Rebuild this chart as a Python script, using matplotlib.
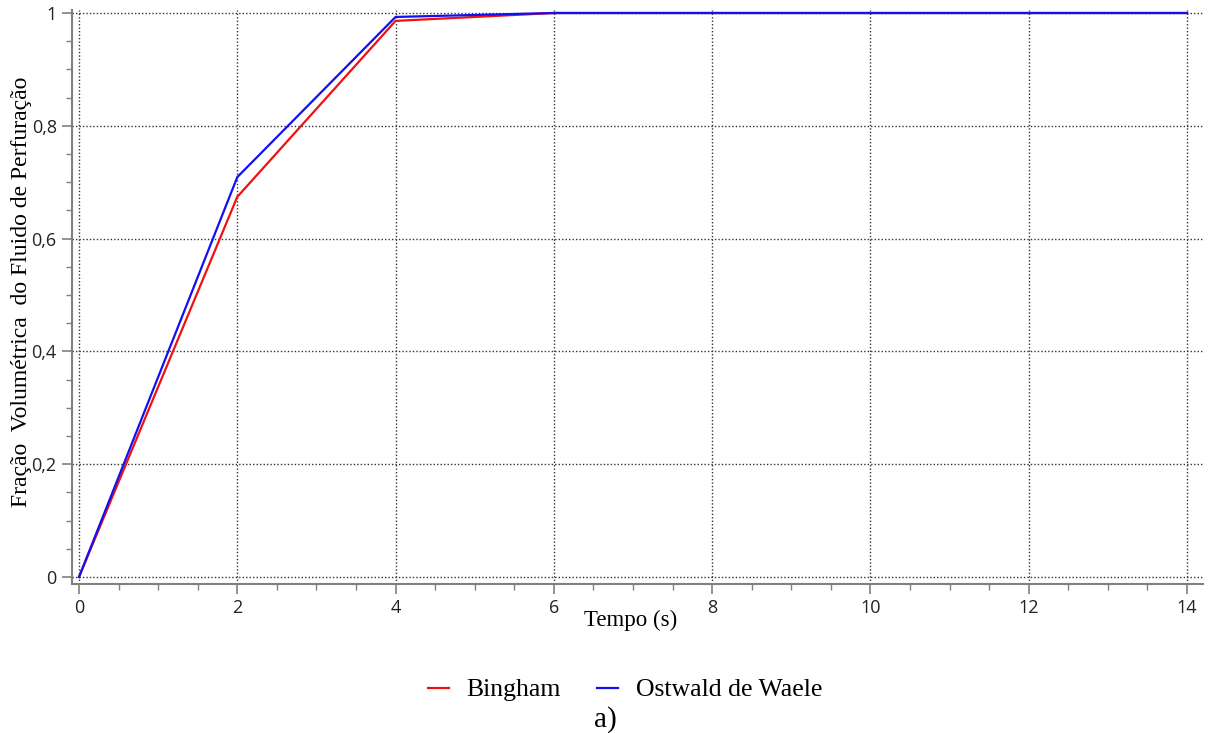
import numpy as np
import matplotlib.pyplot as plt
from matplotlib.ticker import MultipleLocator, FuncFormatter

# dados
tempo = [0, 2, 4, 6, 8, 10, 12, 14]
bingham = [0.0, 0.674, 0.986, 1.0, 1.0, 1.0, 1.0, 1.0]
ostwald = [0.0, 0.709, 0.993, 1.0, 1.0, 1.0, 1.0, 1.0]

fig = plt.figure(figsize=(12.08, 7.33), dpi=100)
W, H = 1208, 733
# eixo: spine esquerda em x=72px, base em y=584px
ax = fig.add_axes([72 / W, 1 - 584 / H, (1203 - 72) / W, (584 - 10) / H])

px_x = (1187 - 79) / 14.0
px_y = (577 - 13) / 1.0
ax.set_xlim(-(79 - 72) / px_x, 14 + (1203 - 1187) / px_x)
ax.set_ylim(-(584 - 577) / px_y, 1 + (13 - 10) / px_y)

ax.plot(tempo, bingham, color='#f01010', lw=1.6, label='Bingham')
ax.plot(tempo, ostwald, color='#1010f0', lw=1.6, label='Ostwald de Waele')

ax.spines['top'].set_visible(False)
ax.spines['right'].set_visible(False)
ax.spines['left'].set_color('#808080')
ax.spines['bottom'].set_color('#808080')
ax.spines['left'].set_linewidth(1.5)
ax.spines['bottom'].set_linewidth(1.5)

ax.xaxis.set_minor_locator(MultipleLocator(0.5))
ax.yaxis.set_minor_locator(MultipleLocator(0.05))
ax.set_xticks([0, 2, 4, 6, 8, 10, 12, 14])
ax.set_yticks([0, 0.2, 0.4, 0.6, 0.8, 1.0])

def fmt(v, pos):
    if abs(v - round(v)) < 1e-9:
        return str(int(round(v)))
    return ('%.1f' % v).replace('.', ',')

ax.yaxis.set_major_formatter(FuncFormatter(fmt))
ax.xaxis.set_major_formatter(FuncFormatter(fmt))

ax.tick_params(which='major', length=7, width=1.2, color='#808080', labelsize=13, pad=4)
ax.tick_params(which='minor', length=4, width=1.0, color='#808080')
for lab in ax.get_xticklabels() + ax.get_yticklabels():
    lab.set_fontfamily('Open Sans')
    lab.set_color('#222222')

ax.grid(True, which='major', linestyle=(0, (1, 1.5)), color='#333333', lw=1.0)

fig.text(631 / W, 1 - 620 / H, 'Tempo (s)', ha='center', va='center',
         family='Liberation Serif', fontsize=16.5)
fig.text(22 / W, 1 - 292 / H, 'Fração  Volumétrica  do Fluido de Perfuração', rotation=90,
         ha='center', va='center', family='Liberation Serif', fontsize=17)

leg = fig.legend(loc='center', bbox_to_anchor=(625 / W, 1 - 690 / H), ncol=2, frameon=False,
                 prop={'family': 'Liberation Serif', 'size': 18.5}, handlelength=0.8,
                 columnspacing=1.4, handletextpad=0.7)

fig.text(605 / W, 1 - 720 / H, 'a)', ha='center', va='center', family='Liberation Serif', fontsize=21)

fig.savefig('out.png', dpi=100)
